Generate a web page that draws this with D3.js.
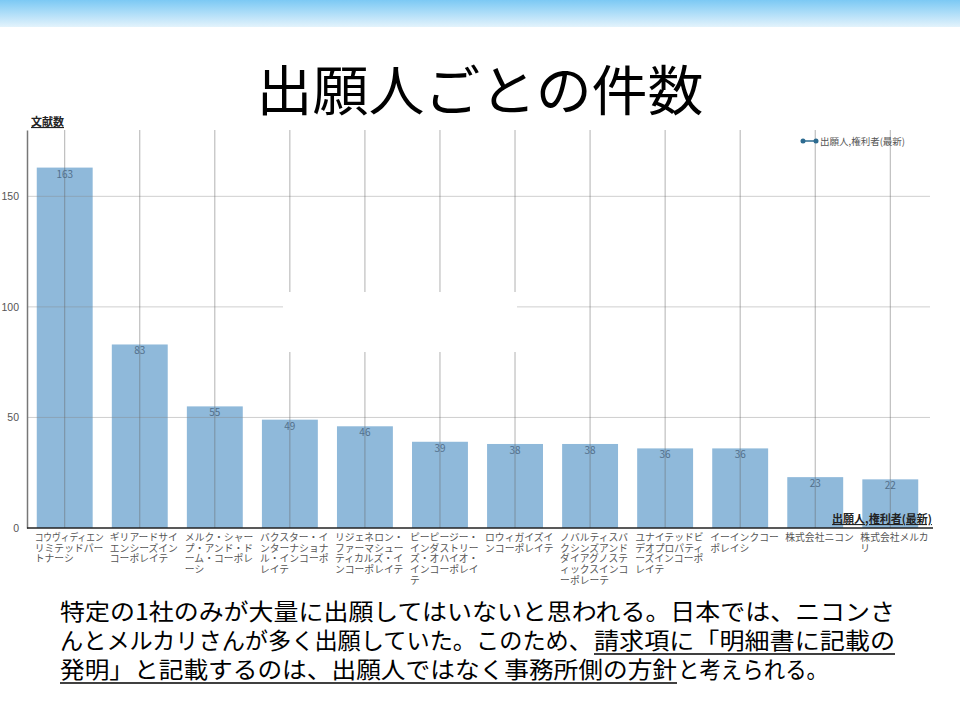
<!DOCTYPE html>
<html>
<head>
<meta charset="utf-8">
<script src="https://cdn.jsdelivr.net/npm/d3@7"></script>
<style>
  body { margin: 0; background: #fff; }
  svg { display: block; font-family: "Noto Sans CJK JP", "Noto Sans", sans-serif; }
</style>
</head>
<body>
<div id="plot"></div>
<script>
// slide size
const w = 960;
const h = 720;
const margin = {top: 130, right: 30, bottom: 192, left: 27};
const innerWidth = w - margin.left - margin.right;
const innerHeight = h - margin.top - margin.bottom;

// data (label lines wrapped as in the picture)
const applicants = [
  "コウヴィディエン\nリミテッドパー\nトナーシ",
  "ギリアードサイ\nエンシーズイン\nコーポレイテ",
  "メルク・シャー\nプ・アンド・ド\nーム・コーポレ\nーシ",
  "バクスター・イ\nンターナショナ\nル・インコーポ\nレイテ",
  "リジェネロン・\nファーマシュー\nティカルズ・イ\nンコーポレイテ",
  "ピーピージー・\nインダストリー\nズ・オハイオ・\nインコーポレイ\nテ",
  "ロウィガイズイ\nンコーポレイテ",
  "ノバルティスバ\nクシンズアンド\nダイアグノステ\nィックスインコ\nーポレーテ",
  "ユナイテッドビ\nデオプロパティ\nーズインコーポ\nレイテ",
  "イーインクコー\nポレイシ",
  "株式会社ニコン",
  "株式会社メルカ\nリ"
];
const counts = [163, 83, 55, 49, 46, 39, 38, 38, 36, 36, 23, 22];
const yTicks = [0, 50, 100, 150];

const seriesName = "出願人,権利者(最新)";
const yTitle = "文献数";
const xTitle = "出願人,権利者(最新)";
const title = "出願人ごとの件数";
const noteLines = [
  ["特定の1社のみが大量に出願してはいないと思われる。日本では、ニコンさ"],
  ["んとメルカリさんが多く出願していた。このため、", "請求項に「明細書に記載の"],
  ["発明」と記載するのは、出願人ではなく事務所側の方針", "と考えられる。"]
];
const noteUnderline = [[false], [false, true], [true, false]];

// layout of the note parts: [start x, width]
const noteBoxes = [
  [[60, 835]],
  [[60, 532], [594, 301]],
  [[60, 617], [678, 150]]
];

const svg = d3.select("div#plot")
  .append("svg")
    .attr("width", w)
    .attr("height", h);

// top band
const grad = svg.append("defs")
  .append("linearGradient")
    .attr("id", "band")
    .attr("x1", 0).attr("y1", 0).attr("x2", 0).attr("y2", 1);
grad.append("stop").attr("offset", "0%").attr("stop-color", "#7cc9f4");
grad.append("stop").attr("offset", "100%").attr("stop-color", "#e3f3fc");

svg.append("rect")
  .attr("width", w)
  .attr("height", 27)
  .attr("fill", "url(#band)");

// title
svg.append("text")
  .attr("x", w / 2)
  .attr("y", 111)
  .attr("text-anchor", "middle")
  .attr("font-size", 54)
  .attr("textLength", 447)
  .attr("lengthAdjust", "spacingAndGlyphs")
  .attr("fill", "#000")
  .text(title);

const xScale = d3.scaleBand()
  .domain(d3.range(applicants.length))
  .range([0, innerWidth - 2])
  .paddingInner(0.255)
  .paddingOuter(0.13);

const yScale = d3.scaleLinear()
  .domain([0, 180])
  .range([innerHeight, 0]);

const plot = svg.append("g")
  .attr("id", "plot")
  .attr("transform", `translate (${margin.left}, ${margin.top})`);

// bars
plot.selectAll("rect.bar")
  .data(counts)
  .enter()
  .append("rect")
    .attr("class", "bar")
    .attr("x", (d, i) => xScale(i))
    .attr("y", d => yScale(d))
    .attr("width", xScale.bandwidth())
    .attr("height", d => innerHeight - yScale(d))
    .attr("fill", "#8fb9da");

// grid lines drawn over bars
plot.selectAll("line.hgrid")
  .data(yTicks.filter(d => d > 0))
  .enter()
  .append("line")
    .attr("x1", 0)
    .attr("x2", innerWidth)
    .attr("y1", d => yScale(d))
    .attr("y2", d => yScale(d))
    .attr("stroke", "#888")
    .attr("stroke-opacity", 0.4);

plot.selectAll("line.vgrid")
  .data(counts)
  .enter()
  .append("line")
    .attr("x1", (d, i) => xScale(i) + xScale.bandwidth() / 2)
    .attr("x2", (d, i) => xScale(i) + xScale.bandwidth() / 2)
    .attr("y1", 0)
    .attr("y2", innerHeight)
    .attr("stroke", "#666")
    .attr("stroke-opacity", 0.5);

// white patch seen in the middle of the slide
plot.append("rect")
  .attr("x", 283 - margin.left)
  .attr("y", 292 - margin.top)
  .attr("width", 234)
  .attr("height", 60)
  .attr("fill", "#fff");

// value labels
plot.selectAll("text.val")
  .data(counts)
  .enter()
  .append("text")
    .attr("x", (d, i) => xScale(i) + xScale.bandwidth() / 2)
    .attr("y", d => yScale(d) + 10)
    .attr("text-anchor", "middle")
    .attr("font-size", 10)
    .attr("fill", "#52708c")
    .text(d => d);

// y axis
const yAxis = d3.axisLeft(yScale)
  .tickValues(yTicks)
  .tickSize(0)
  .tickPadding(8);

plot.append("g")
  .attr("id", "yaxis")
  .call(yAxis)
  .call(g => g.select(".domain").attr("stroke", "#777").attr("stroke-width", 1.5))
  .call(g => g.selectAll("text").attr("font-size", 10.5).attr("fill", "#555")
    .attr("font-family", "'Liberation Sans', Arial, sans-serif"));

// x axis line
plot.append("line")
  .attr("x1", 0)
  .attr("x2", innerWidth + 3)
  .attr("y1", innerHeight)
  .attr("y2", innerHeight)
  .attr("stroke", "#222")
  .attr("stroke-width", 1.5);

// category labels, one text per line, squeezed to fit the band
const cat = plot.selectAll("g.cat")
  .data(applicants)
  .enter()
  .append("g")
    .attr("class", "cat")
    .attr("transform", (d, i) => `translate(${xScale(i) - 2}, ${innerHeight + 13})`);

cat.selectAll("text")
  .data(d => d.split("\n"))
  .enter()
  .append("text")
    .attr("x", 0)
    .attr("y", (d, i) => i * 10.7)
    .attr("font-size", 9.8)
    .attr("fill", "#555")
    .text(d => d)
    .each(function() {
      const len = this.getComputedTextLength();
      if (len > 69) {
        d3.select(this)
          .attr("textLength", 69)
          .attr("lengthAdjust", "spacingAndGlyphs");
      }
    });

// axis titles
svg.append("text")
  .attr("x", 31)
  .attr("y", 126)
  .attr("font-size", 11)
  .attr("font-weight", "bold")
  .attr("text-decoration", "underline")
  .attr("fill", "#222")
  .text(yTitle);

svg.append("text")
  .attr("x", 932)
  .attr("y", 523)
  .attr("text-anchor", "end")
  .attr("font-size", 11)
  .attr("font-weight", "bold")
  .attr("text-decoration", "underline")
  .attr("fill", "#222")
  .text(xTitle);

// legend
const legend = svg.append("g")
  .attr("transform", "translate(803, 141)");

legend.append("line")
  .attr("x1", 0).attr("x2", 13)
  .attr("stroke", "#2d6b90")
  .attr("stroke-width", 1.5);

legend.selectAll("circle")
  .data([0, 13])
  .enter()
  .append("circle")
    .attr("cx", d => d)
    .attr("r", 2.5)
    .attr("fill", "#2d6b90");

legend.append("text")
  .attr("x", 17)
  .attr("y", 3.5)
  .attr("font-size", 9.5)
  .attr("fill", "#555")
  .text(seriesName);

// note below the chart
const note = svg.append("g");
noteLines.forEach(function(parts, i) {
  parts.forEach(function(p, j) {
    const box = noteBoxes[i][j];
    note.append("text")
      .attr("x", box[0])
      .attr("y", 620 + i * 29)
      .attr("font-size", 23)
      .attr("fill", "#000")
      .attr("textLength", box[1])
      .attr("lengthAdjust", "spacingAndGlyphs")
      .text(p);
    if (noteUnderline[i][j]) {
      note.append("line")
        .attr("x1", box[0])
        .attr("x2", box[0] + box[1])
        .attr("y1", 620 + i * 29 + 5)
        .attr("y2", 620 + i * 29 + 5)
        .attr("stroke", "#000")
        .attr("stroke-width", 1.6);
    }
  });
});
</script>
</body>
</html>
